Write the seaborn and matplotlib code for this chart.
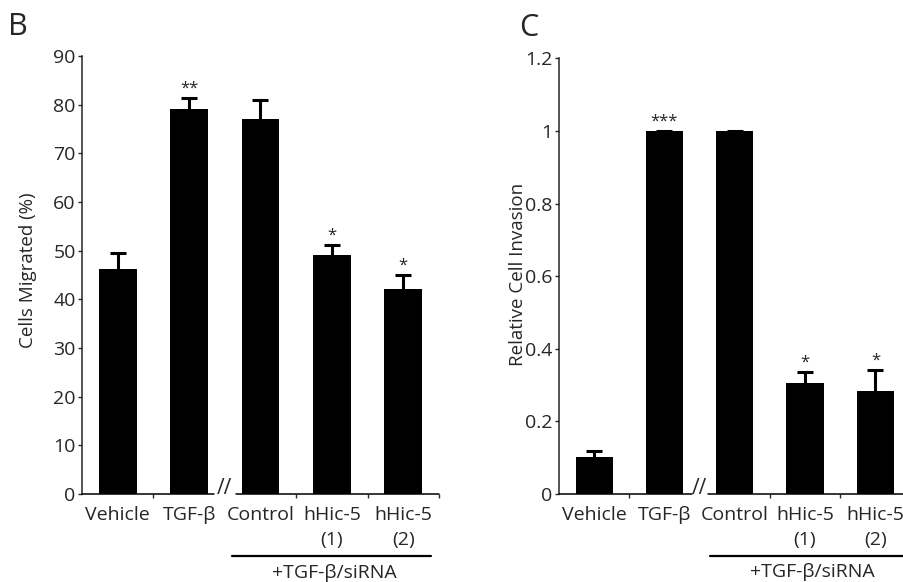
import numpy as np
import pandas as pd
import matplotlib
matplotlib.use("Agg")
import matplotlib.pyplot as plt
import matplotlib.transforms as mtransforms
import seaborn as sns

# categories and values
groups = ["Vehicle", "TGF-β", "Control", "hHic-5\n(1)", "hHic-5\n(2)"]
migrated = [46.2, 79.1, 77.1, 49.1, 42.1]
migrated_err = [3.3, 2.3, 3.9, 2.1, 2.9]
migrated_stars = ["", "**", "", "*", "*"]
invasion = [0.102, 1.0, 1.0, 0.306, 0.284]
invasion_err = [0.016, 0.0, 0.0, 0.030, 0.058]
invasion_stars = ["", "***", "", "*", "*"]
group_label = "+TGF-β/siRNA"

sns.set_style("white")
plt.rcParams["font.family"] = ["Open Sans", "DejaVu Sans"]


def draw_panel(ax, vals, errs, stars, ylabel, yticks, yticklabels, ymax,
               gap, line_x, text_x, ylab_pos):
    df = pd.DataFrame({"group": groups, "value": vals})
    sns.barplot(data=df, x="group", y="value", order=groups, color="black",
                width=0.53, saturation=1, edgecolor="none", ax=ax)
    eb = ax.errorbar(np.arange(len(vals)), vals,
                     yerr=[np.zeros(len(vals)), errs], fmt="none",
                     ecolor="black", elinewidth=2.2, capsize=6, capthick=2.2,
                     zorder=3)
    # only the upper cap is wanted
    for cap in eb[1]:
        if np.allclose(cap.get_ydata(), vals):
            cap.set_visible(False)
    for i, s in enumerate(stars):
        if s:
            ax.annotate(s, (i, vals[i] + errs[i]), xytext=(0, 1),
                        textcoords="offset points", ha="center", va="bottom",
                        fontsize=12)

    ax.set_xlim(-0.5, 4.5)
    ax.set_ylim(0, ymax)
    ax.set_yticks(yticks)
    ax.set_yticklabels(yticklabels)
    ax.set_xlabel("")
    ax.set_ylabel(ylabel, fontsize=13.5)
    ax.yaxis.set_label_coords(*ylab_pos)

    # axis look
    for side in ["top", "right", "bottom"]:
        ax.spines[side].set_visible(False)
    ax.spines["left"].set_linewidth(1.1)
    ax.tick_params(axis="y", direction="out", length=3, width=1,
                   labelsize=14, pad=1.5, left=True)
    ax.tick_params(axis="x", which="major", length=0, labelsize=14, pad=9)
    ax.set_xticks([0.5, 2.5, 3.5, 4.5], minor=True)
    ax.tick_params(axis="x", which="minor", direction="out", length=3,
                   width=1, bottom=True)
    for lab in ax.get_xticklabels():
        lab.set_linespacing(1.45)
        lab.set_va("top")

    # broken x axis
    ax.plot([-0.5, gap[0]], [0, 0], color="black", lw=1.1, clip_on=False,
            zorder=4)
    ax.plot([gap[1], 4.5], [0, 0], color="black", lw=1.1, clip_on=False,
            zorder=4)
    ax.text(1.5, ymax * 0.012, "//", ha="center", va="center", fontsize=15)

    # group bracket under the siRNA conditions
    trans = mtransforms.blended_transform_factory(ax.transData, ax.transAxes)
    ax.plot(line_x, [-0.1416, -0.1416], color="black", lw=1.6,
            transform=trans, clip_on=False)
    ax.text(text_x, -0.18, group_label, ha="center", va="center",
            fontsize=14, transform=trans)


fig = plt.figure(figsize=(9.04, 5.82), dpi=100)
ax1 = fig.add_axes([82 / 904, 88 / 582, 357 / 904, 438 / 582])
ax2 = fig.add_axes([559 / 904, 88 / 582, 351.5 / 904, 435.6 / 582])

draw_panel(ax1, migrated, migrated_err, migrated_stars, "Cells Migrated (%)",
           np.arange(0, 91, 10), [str(v) for v in range(0, 91, 10)], 90,
           (1.35, 1.65), [1.6, 4.39], 3.03, (-0.126, 0.511))
draw_panel(ax2, invasion, invasion_err, invasion_stars,
           "Relative Cell Invasion",
           [0, 0.2, 0.4, 0.6, 0.8, 1.0, 1.2],
           ["0", "0.2", "0.4", "0.6", "0.8", "1", "1.2"], 1.2,
           (1.39, 1.62), [1.65, 4.6], 3.1, (-0.091, 0.503))

fig.text(8 / 904, 1 - 27 / 582, "B", fontsize=22, va="center", ha="left")
fig.text(519 / 904, 1 - 28 / 582, "C", fontsize=22, va="center", ha="left")

fig.savefig("out.png", dpi=100)
